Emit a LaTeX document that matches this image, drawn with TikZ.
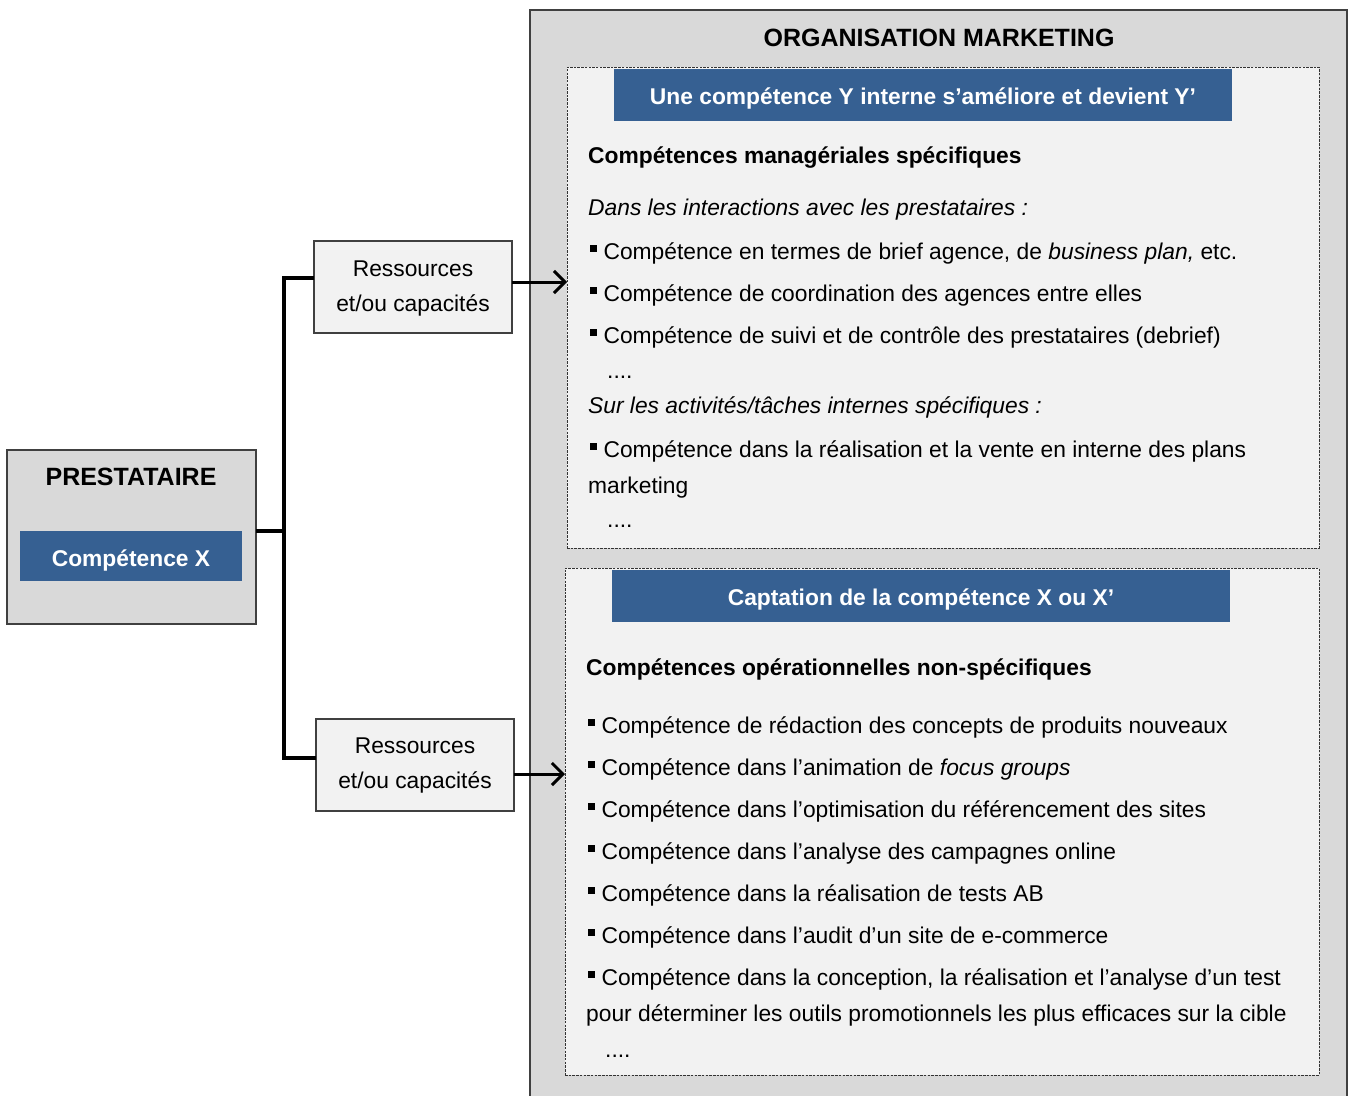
\documentclass[tikz,border=0pt]{standalone}
\usepackage{fontspec}
\setmainfont{Liberation Sans}
\usetikzlibrary{arrows.meta}
\definecolor{outergray}{RGB}{217,217,217}
\definecolor{palegray}{RGB}{242,242,242}
\definecolor{hblue}{RGB}{54,96,146}
\definecolor{edgegray}{RGB}{64,64,64}
\newcommand\mybul{\rule[7pt]{7pt}{7pt}\ }
\begin{document}
\begin{tikzpicture}[x=1pt,y=-1pt,
  font=\fontsize{22.8}{27}\selectfont,
  box/.style={draw=edgegray, line width=1.3pt, anchor=north west, inner sep=0pt, outer sep=0pt},
  dbox/.style={draw=black!80, line width=0.9pt, dash pattern=on 2.5pt off 1.2pt, fill=palegray, anchor=north west, inner sep=0pt, outer sep=0pt},
  bluebox/.style={fill=hblue, anchor=north west, inner sep=0pt, outer sep=0pt},
  txt/.style={anchor=base west, inner sep=0pt},
  txtc/.style={anchor=base, inner sep=0pt},
  bigtxt/.style={anchor=base, inner sep=0pt, font=\fontsize{25}{30}\selectfont\bfseries},
  wtxt/.style={anchor=base, inner sep=0pt, text=white, font=\fontsize{22.8}{27}\selectfont\bfseries},
  conn/.style={line width=3.5pt, black},
  arr/.style={line width=3pt, black, -{Straight Barb[length=11pt,width=22pt,line width=3pt]}}
]
\useasboundingbox (0,0) rectangle (1349,1095);
\fill[white] (0,0) rectangle (1349,1095);

% outer organisation box
\fill[outergray] (530,10) rectangle (1347,1100);
\draw[edgegray, line width=1.5pt] (530,1100) -- (530,10) -- (1347,10) -- (1347,1100);
\node[bigtxt] (orgt) at (939,46) {ORGANISATION MARKETING};

% inner dashed boxes
\node[dbox, minimum width=752pt, minimum height=481pt] (inA) at (567,67) {};
\node[dbox, minimum width=754pt, minimum height=507pt] (inB) at (565,568) {};

% blue headers
\node[bluebox, minimum width=618pt, minimum height=52pt] (hA) at (614,69) {};
\node[wtxt] (hAt) at (923,104) {Une compétence Y interne s’améliore et devient Y’};
\node[bluebox, minimum width=618pt, minimum height=52pt] (hB) at (612,570) {};
\node[wtxt] (hBt) at (921,605) {Captation de la compétence X ou X’};

% upper texts
\node[txt] (a1) at (588,163) {\textbf{Compétences managériales spécifiques}};
\node[txt] (a2) at (588,215) {\textit{Dans les interactions avec les prestataires :}};
\node[txt] (a3) at (590,259) {\mybul Compétence en termes de brief agence, de \textit{business plan,} etc.};
\node[txt] (a4) at (590,301) {\mybul Compétence de coordination des agences entre elles};
\node[txt] (a5) at (590,343) {\mybul Compétence de suivi et de contrôle des prestataires (debrief)};
\node[txt] (a6) at (607,378) {....};
\node[txt] (a7) at (588,413) {\textit{Sur les activités/tâches internes spécifiques :}};
\node[txt] (a8) at (590,457) {\mybul Compétence dans la réalisation et la vente en interne des plans};
\node[txt] (a9) at (588,493) {marketing};
\node[txt] (a10) at (607,527) {....};

% lower texts
\node[txt] (b1) at (586,675) {\textbf{Compétences opérationnelles non-spécifiques}};
\node[txt] (b2) at (588,733) {\mybul Compétence de rédaction des concepts de produits nouveaux};
\node[txt] (b3) at (588,775) {\mybul Compétence dans l’animation de \textit{focus groups}};
\node[txt] (b4) at (588,817) {\mybul Compétence dans l’optimisation du référencement des sites};
\node[txt] (b5) at (588,859) {\mybul Compétence dans l’analyse des campagnes online};
\node[txt] (b6) at (588,901) {\mybul Compétence dans la réalisation de tests AB};
\node[txt] (b7) at (588,943) {\mybul Compétence dans l’audit d’un site de e-commerce};
\node[txt] (b8) at (588,985) {\mybul Compétence dans la conception, la réalisation et l’analyse d’un test};
\node[txt] (b9) at (586,1021) {pour déterminer les outils promotionnels les plus efficaces sur la cible};
\node[txt] (b10) at (605,1057) {....};

% prestataire
\node[box, fill=outergray, minimum width=249pt, minimum height=174pt] (pres) at (7,450) {};
\node[bigtxt] (prest) at (131,485) {PRESTATAIRE};
\node[bluebox, minimum width=222pt, minimum height=50pt] (cx) at (20,531) {};
\node[wtxt] (cxt) at (131,566) {Compétence X};

% ressources boxes
\node[box, fill=palegray, minimum width=198pt, minimum height=92pt] (r1) at (314,241) {};
\node[txtc] (r1a) at (413,276) {Ressources};
\node[txtc] (r1b) at (413,311) {et/ou capacités};
\node[box, fill=palegray, minimum width=198pt, minimum height=92pt] (r2) at (316,719) {};
\node[txtc] (r2a) at (415,753) {Ressources};
\node[txtc] (r2b) at (415,788) {et/ou capacités};

% connectors
\coordinate (jx) at (284,531);
\draw[conn] (pres.east |- 0,531) -- (jx);
\draw[conn] (r1.west |- 0,278) -- (284,278) -- (284,758) -- (r2.west |- 0,758);
\draw[arr] (r1.east |- 0,282) -- (inA.west |- 0,282);
\draw[arr] (r2.east |- 0,774) -- (inB.west |- 0,774);
\end{tikzpicture}
\end{document}
